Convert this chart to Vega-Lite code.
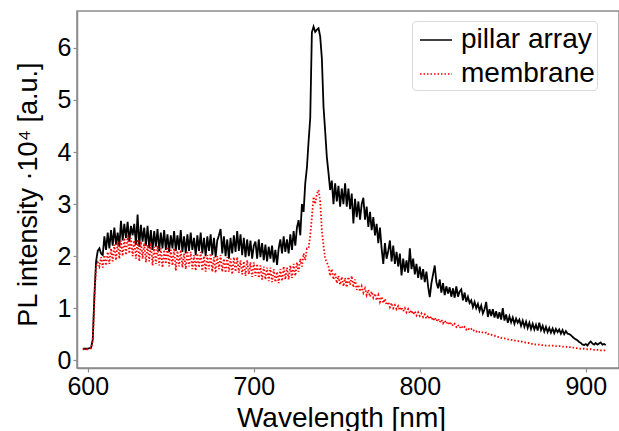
{
"$schema":"https://vega.github.io/schema/vega-lite/v6.json",
"width":542,"height":357,
"autosize":{"type":"none"},
"padding":{"left":77,"top":11,"right":0,"bottom":63},
"data":{"values":[
{"w":597,"p":0.22,"m":0.21},{"w":598,"p":0.22,"m":0.21},{"w":599,"p":0.22,"m":0.21},{"w":600,"p":0.22,"m":0.21},{"w":601,"p":0.23,"m":0.22},{"w":602,"p":0.24,"m":0.23},
{"w":603,"p":0.40,"m":0.38},{"w":604,"p":1.25,"m":1.20},{"w":605,"p":1.90,"m":1.80},{"w":606,"p":2.10,"m":1.88},{"w":607,"p":2.15,"m":1.80},{"w":608,"p":2.05,"m":1.98},{"w":609,"p":2.02,"m":1.78},
{"w":610,"p":2.38,"m":2.02},{"w":611,"p":2.12,"m":1.82},{"w":612,"p":2.45,"m":2.08},{"w":613,"p":2.15,"m":1.85},{"w":614,"p":2.50,"m":2.15},{"w":615,"p":2.20,"m":1.90},{"w":616,"p":2.55,"m":2.22},{"w":617,"p":2.22,"m":1.92},{"w":618,"p":2.45,"m":2.28},{"w":619,"p":2.18,"m":1.95},
{"w":620,"p":2.68,"m":2.30},{"w":621,"p":2.30,"m":2.00},{"w":622,"p":2.62,"m":2.35},{"w":623,"p":2.35,"m":2.02},{"w":624,"p":2.66,"m":2.40},{"w":625,"p":2.28,"m":2.05},{"w":626,"p":2.58,"m":2.35},{"w":627,"p":2.40,"m":2.00},{"w":628,"p":2.62,"m":2.30},{"w":629,"p":2.22,"m":1.95},
{"w":630,"p":2.80,"m":2.32},{"w":631,"p":2.18,"m":1.90},{"w":632,"p":2.60,"m":2.28},{"w":633,"p":2.28,"m":1.95},{"w":634,"p":2.55,"m":2.25},{"w":635,"p":2.20,"m":1.88},{"w":636,"p":2.58,"m":2.22},{"w":637,"p":2.15,"m":1.90},{"w":638,"p":2.50,"m":2.25},{"w":639,"p":2.12,"m":1.82},
{"w":640,"p":2.48,"m":2.18},{"w":641,"p":2.18,"m":1.85},{"w":642,"p":2.52,"m":2.20},{"w":643,"p":2.10,"m":1.82},{"w":644,"p":2.45,"m":2.15},{"w":645,"p":2.15,"m":1.78},{"w":646,"p":2.50,"m":2.12},{"w":647,"p":2.12,"m":1.85},{"w":648,"p":2.42,"m":2.18},{"w":649,"p":2.08,"m":1.80},
{"w":650,"p":2.40,"m":2.12},{"w":651,"p":2.15,"m":1.82},{"w":652,"p":2.48,"m":2.15},{"w":653,"p":2.10,"m":1.72},{"w":654,"p":2.40,"m":2.10},{"w":655,"p":2.12,"m":1.80},{"w":656,"p":2.50,"m":2.12},{"w":657,"p":2.08,"m":1.78},{"w":658,"p":2.38,"m":2.05},{"w":659,"p":2.05,"m":1.75},
{"w":660,"p":2.42,"m":2.10},{"w":661,"p":2.10,"m":1.80},{"w":662,"p":2.45,"m":2.08},{"w":663,"p":2.12,"m":1.75},{"w":664,"p":2.35,"m":2.02},{"w":665,"p":2.02,"m":1.72},{"w":666,"p":2.40,"m":2.05},{"w":667,"p":2.10,"m":1.78},{"w":668,"p":2.45,"m":2.08},{"w":669,"p":2.05,"m":1.72},
{"w":670,"p":2.35,"m":2.00},{"w":671,"p":2.00,"m":1.70},{"w":672,"p":2.38,"m":2.02},{"w":673,"p":2.10,"m":1.75},{"w":674,"p":2.42,"m":2.05},{"w":675,"p":2.02,"m":1.70},{"w":676,"p":2.35,"m":1.98},{"w":677,"p":1.98,"m":1.68},{"w":678,"p":2.30,"m":2.00},{"w":679,"p":2.40,"m":1.75},
{"w":680,"p":2.52,"m":2.02},{"w":681,"p":2.05,"m":1.70},{"w":682,"p":2.38,"m":1.95},{"w":683,"p":2.00,"m":1.68},{"w":684,"p":2.32,"m":1.98},{"w":685,"p":1.95,"m":1.70},{"w":686,"p":2.35,"m":1.95},{"w":687,"p":2.05,"m":1.65},{"w":688,"p":2.40,"m":1.98},{"w":689,"p":2.08,"m":1.70},
{"w":690,"p":2.48,"m":1.98},{"w":691,"p":2.10,"m":1.68},{"w":692,"p":2.42,"m":1.92},{"w":693,"p":2.02,"m":1.65},{"w":694,"p":2.35,"m":1.90},{"w":695,"p":1.98,"m":1.62},{"w":696,"p":2.32,"m":1.92},{"w":697,"p":2.00,"m":1.65},{"w":698,"p":2.30,"m":1.88},{"w":699,"p":1.95,"m":1.60},
{"w":700,"p":2.20,"m":1.88},{"w":701,"p":2.28,"m":1.62},{"w":702,"p":1.95,"m":1.85},{"w":703,"p":2.32,"m":1.58},{"w":704,"p":1.98,"m":1.82},{"w":705,"p":2.25,"m":1.55},{"w":706,"p":1.92,"m":1.80},{"w":707,"p":2.22,"m":1.55},{"w":708,"p":1.90,"m":1.78},{"w":709,"p":2.18,"m":1.52},
{"w":710,"p":1.95,"m":1.78},{"w":711,"p":2.20,"m":1.50},{"w":712,"p":1.88,"m":1.75},{"w":713,"p":2.12,"m":1.50},{"w":714,"p":1.83,"m":1.70},{"w":715,"p":2.15,"m":1.48},{"w":716,"p":2.32,"m":1.75},{"w":717,"p":2.05,"m":1.52},{"w":718,"p":2.38,"m":1.80},{"w":719,"p":2.08,"m":1.55},
{"w":720,"p":2.32,"m":1.78},{"w":721,"p":2.05,"m":1.55},{"w":722,"p":2.42,"m":1.82},{"w":723,"p":2.12,"m":1.58},{"w":724,"p":2.48,"m":1.85},{"w":725,"p":2.20,"m":1.62},{"w":726,"p":2.55,"m":1.88},{"w":727,"p":2.69,"m":1.70},{"w":728,"p":2.40,"m":1.95},{"w":729,"p":3.00,"m":1.80},
{"w":730,"p":2.85,"m":2.05},{"w":731,"p":3.40,"m":1.92},{"w":732,"p":3.70,"m":2.15},{"w":733,"p":4.20,"m":2.15},{"w":734,"p":4.65,"m":2.40},{"w":735,"p":6.30,"m":2.75},{"w":736,"p":6.41,"m":3.14},{"w":737,"p":6.31,"m":3.00},{"w":738,"p":6.35,"m":3.20},{"w":739,"p":6.38,"m":3.27},
{"w":740,"p":6.22,"m":3.05},{"w":741,"p":5.80,"m":2.50},{"w":742,"p":4.87,"m":2.20},{"w":743,"p":4.40,"m":1.95},{"w":744,"p":3.90,"m":1.88},{"w":745,"p":3.60,"m":1.80},{"w":746,"p":3.27,"m":1.62},{"w":747,"p":3.45,"m":1.75},{"w":748,"p":3.00,"m":1.55},{"w":749,"p":3.40,"m":1.68},
{"w":750,"p":3.05,"m":1.48},{"w":751,"p":3.35,"m":1.62},{"w":752,"p":2.95,"m":1.45},{"w":753,"p":3.30,"m":1.60},{"w":754,"p":3.00,"m":1.42},{"w":755,"p":3.40,"m":1.58},{"w":756,"p":2.95,"m":1.40},{"w":757,"p":3.30,"m":1.60},{"w":758,"p":2.90,"m":1.45},{"w":759,"p":3.20,"m":1.62},
{"w":760,"p":2.63,"m":1.40},{"w":761,"p":3.10,"m":1.55},{"w":762,"p":2.75,"m":1.35},{"w":763,"p":3.05,"m":1.45},{"w":764,"p":2.70,"m":1.32},{"w":765,"p":3.00,"m":1.42},{"w":766,"p":3.12,"m":1.30},{"w":767,"p":2.70,"m":1.38},{"w":768,"p":2.95,"m":1.25},{"w":769,"p":2.56,"m":1.35},
{"w":770,"p":2.85,"m":1.22},{"w":771,"p":2.50,"m":1.32},{"w":772,"p":2.75,"m":1.20},{"w":773,"p":2.40,"m":1.28},{"w":774,"p":2.62,"m":1.15},{"w":775,"p":2.25,"m":1.25},{"w":776,"p":2.55,"m":1.12},{"w":777,"p":2.15,"m":1.22},{"w":778,"p":1.85,"m":1.10},{"w":779,"p":2.25,"m":1.18},
{"w":780,"p":1.95,"m":1.06},{"w":781,"p":2.10,"m":1.12},{"w":782,"p":2.30,"m":1.02},{"w":783,"p":1.90,"m":1.10},{"w":784,"p":2.20,"m":1.00},{"w":785,"p":1.85,"m":1.06},{"w":786,"p":2.08,"m":0.98},{"w":787,"p":1.80,"m":1.04},{"w":788,"p":2.05,"m":0.96},{"w":789,"p":1.63,"m":1.02},
{"w":790,"p":1.95,"m":0.94},{"w":791,"p":1.70,"m":1.00},{"w":792,"p":1.92,"m":0.92},{"w":793,"p":1.68,"m":0.98},{"w":794,"p":2.15,"m":0.90},{"w":795,"p":1.75,"m":0.96},{"w":796,"p":1.95,"m":0.88},{"w":797,"p":1.65,"m":0.94},{"w":798,"p":1.85,"m":0.86},{"w":799,"p":1.58,"m":0.92},
{"w":800,"p":1.80,"m":0.85},{"w":801,"p":1.55,"m":0.90},{"w":802,"p":1.75,"m":0.83},{"w":803,"p":1.50,"m":0.88},{"w":804,"p":1.70,"m":0.80},{"w":805,"p":1.42,"m":0.86},{"w":806,"p":1.21,"m":0.79},{"w":807,"p":1.48,"m":0.84},{"w":808,"p":1.65,"m":0.76},{"w":809,"p":1.82,"m":0.82},
{"w":810,"p":1.50,"m":0.75},{"w":811,"p":1.38,"m":0.80},{"w":812,"p":1.55,"m":0.73},{"w":813,"p":1.30,"m":0.78},{"w":814,"p":1.48,"m":0.71},{"w":815,"p":1.25,"m":0.76},{"w":816,"p":1.42,"m":0.70},{"w":817,"p":1.28,"m":0.74},{"w":818,"p":1.40,"m":0.68},{"w":819,"p":1.22,"m":0.72},
{"w":820,"p":1.38,"m":0.66},{"w":821,"p":1.20,"m":0.70},{"w":822,"p":1.42,"m":0.64},{"w":823,"p":1.22,"m":0.68},{"w":824,"p":1.32,"m":0.62},{"w":825,"p":1.36,"m":0.66},{"w":826,"p":1.15,"m":0.61},{"w":827,"p":1.30,"m":0.64},{"w":828,"p":1.12,"m":0.59},{"w":829,"p":1.22,"m":0.62},
{"w":830,"p":1.10,"m":0.58},{"w":831,"p":1.15,"m":0.60},{"w":832,"p":1.02,"m":0.56},{"w":833,"p":1.12,"m":0.58},{"w":834,"p":1.00,"m":0.55},{"w":835,"p":1.08,"m":0.57},{"w":836,"p":0.95,"m":0.54},{"w":837,"p":1.05,"m":0.55},{"w":838,"p":0.90,"m":0.53},{"w":839,"p":0.98,"m":0.52},
{"w":840,"p":1.12,"m":0.53},{"w":841,"p":0.83,"m":0.50},{"w":842,"p":0.98,"m":0.51},{"w":843,"p":0.85,"m":0.49},{"w":844,"p":0.98,"m":0.48},{"w":845,"p":0.82,"m":0.47},{"w":846,"p":0.94,"m":0.47},{"w":847,"p":0.80,"m":0.45},{"w":848,"p":0.92,"m":0.45},{"w":849,"p":0.78,"m":0.43},
{"w":850,"p":1.00,"m":0.42},{"w":851,"p":0.76,"m":0.42},{"w":852,"p":0.88,"m":0.41},{"w":853,"p":0.72,"m":0.40},{"w":854,"p":0.84,"m":0.40},{"w":855,"p":0.73,"m":0.39},{"w":856,"p":0.82,"m":0.39},{"w":857,"p":0.70,"m":0.38},{"w":858,"p":0.80,"m":0.37},{"w":859,"p":0.72,"m":0.37},
{"w":860,"p":0.78,"m":0.36},{"w":861,"p":0.66,"m":0.36},{"w":862,"p":0.76,"m":0.35},{"w":863,"p":0.64,"m":0.34},{"w":864,"p":0.74,"m":0.34},{"w":865,"p":0.62,"m":0.33},{"w":866,"p":0.72,"m":0.33},{"w":867,"p":0.60,"m":0.32},{"w":868,"p":0.70,"m":0.31},{"w":869,"p":0.59,"m":0.31},
{"w":870,"p":0.68,"m":0.30},{"w":871,"p":0.57,"m":0.30},{"w":872,"p":0.72,"m":0.30},{"w":873,"p":0.58,"m":0.29},{"w":874,"p":0.66,"m":0.29},{"w":875,"p":0.55,"m":0.29},{"w":876,"p":0.64,"m":0.28},{"w":877,"p":0.54,"m":0.28},{"w":878,"p":0.62,"m":0.28},{"w":879,"p":0.53,"m":0.28},
{"w":880,"p":0.61,"m":0.28},{"w":881,"p":0.52,"m":0.27},{"w":882,"p":0.60,"m":0.27},{"w":883,"p":0.54,"m":0.27},{"w":884,"p":0.59,"m":0.27},{"w":885,"p":0.51,"m":0.27},{"w":886,"p":0.58,"m":0.26},{"w":887,"p":0.50,"m":0.26},{"w":888,"p":0.56,"m":0.26},{"w":889,"p":0.51,"m":0.25},
{"w":890,"p":0.50,"m":0.25},{"w":891,"p":0.48,"m":0.25},{"w":892,"p":0.45,"m":0.24},{"w":893,"p":0.42,"m":0.24},{"w":894,"p":0.40,"m":0.23},{"w":895,"p":0.38,"m":0.23},{"w":896,"p":0.35,"m":0.23},{"w":897,"p":0.33,"m":0.22},{"w":898,"p":0.30,"m":0.22},{"w":899,"p":0.29,"m":0.22},
{"w":900,"p":0.31,"m":0.21},{"w":901,"p":0.28,"m":0.21},{"w":902,"p":0.33,"m":0.21},{"w":903,"p":0.36,"m":0.21},{"w":904,"p":0.32,"m":0.20},{"w":905,"p":0.30,"m":0.20},{"w":906,"p":0.33,"m":0.20},{"w":907,"p":0.30,"m":0.20},{"w":908,"p":0.32,"m":0.20},{"w":909,"p":0.34,"m":0.19},
{"w":910,"p":0.30,"m":0.19},{"w":911,"p":0.31,"m":0.19},{"w":912,"p":0.29,"m":0.19}
]},
"transform":[{"fold":["p","m"],"as":["s","v"]}],
"mark":{"type":"line","strokeWidth":1.8,"clip":true},
"encoding":{
"x":{"field":"w","type":"quantitative","scale":{"domain":[593.5,920],"nice":false,"zero":false},
"axis":{"values":[600,700,800,900],"title":"Wavelength [nm]","titleX":264,"titlePadding":5,"titleFontSize":28,"grid":false}},
"y":{"field":"v","type":"quantitative","scale":{"domain":[-0.15,6.71],"nice":false,"zero":false},
"axis":{"values":[0,1,2,3,4,5,6],"title":"PL intensity ·10⁴ [a.u.]","titleY":183,"titlePadding":15,"titleFontSize":27,"grid":false}},
"color":{"field":"s","type":"nominal","scale":{"domain":["p","m"],"range":["#000000","#ff0000"]},
"legend":{"labelExpr":"datum.value == 'p' ? 'pillar array' : 'membrane'"}},
"strokeDash":{"field":"s","type":"nominal","scale":{"domain":["p","m"],"range":[[1,0],[1.5,2]]},
"legend":{"labelExpr":"datum.value == 'p' ? 'pillar array' : 'membrane'"}}
},
"config":{
"font":"Liberation Sans",
"view":{"stroke":"#8c8c8c","strokeWidth":1.5},
"axis":{"domainColor":"#8c8c8c","domainWidth":1.5,"tickColor":"#8c8c8c","tickWidth":1.2,"tickSize":4,
"labelFont":"Liberation Sans","labelFontSize":25,"labelColor":"#000000","labelPadding":2,
"titleFont":"Liberation Sans","titleFontWeight":"normal","titleColor":"#000000"},
"legend":{"orient":"none","legendX":335,"legendY":10,"title":null,"labelFont":"Liberation Sans","labelFontSize":28,"labelColor":"#000000",
"symbolType":"stroke","symbolSize":1024,"symbolStrokeWidth":1.6,"symbolOffset":5,"labelOffset":8,"rowPadding":3,
"padding":2,"cornerRadius":4,"strokeColor":"#d9d9d9","fillColor":"#ffffff"}
}
}
